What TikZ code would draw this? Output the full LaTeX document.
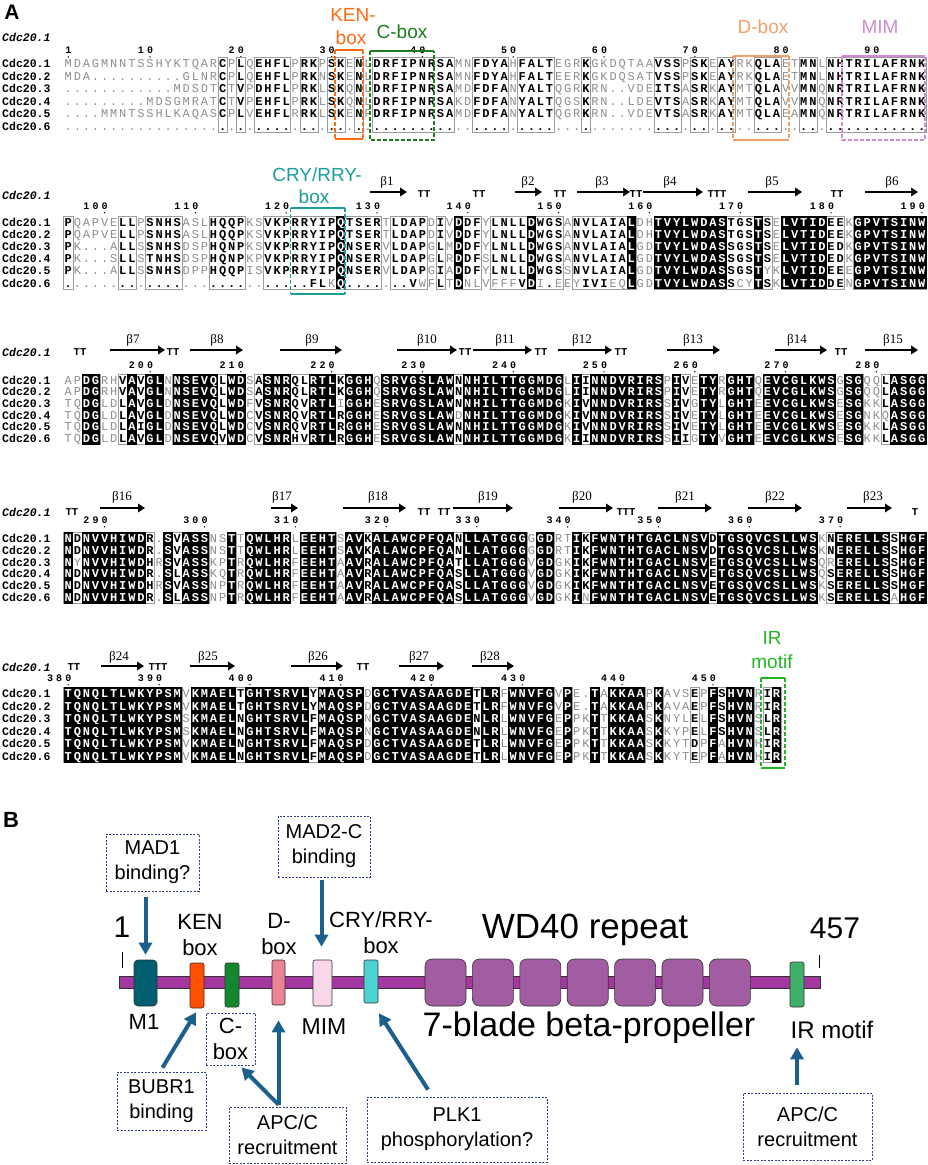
\documentclass[tikz,border=0pt]{standalone}
\usepackage{fontspec}
\setmainfont{Liberation Sans}
\newfontfamily\monof{Liberation Mono}
\newfontfamily\serf{Liberation Serif}
\usetikzlibrary{arrows.meta,calc}

\definecolor{resgrey}{HTML}{8E8E8E}
\definecolor{framegrey}{HTML}{9C9C9C}
\definecolor{kencol}{HTML}{FF6A13}
\definecolor{cboxcol}{HTML}{1E7B1E}
\definecolor{dboxcol}{HTML}{F5A06A}
\definecolor{mimcol}{HTML}{D28AD2}
\definecolor{crycol}{HTML}{1A9E9A}
\definecolor{ircol}{HTML}{22B522}
\definecolor{bbcol}{HTML}{A3369F}
\definecolor{bladecol}{HTML}{A25CA2}
\definecolor{m1col}{HTML}{005E6E}
\definecolor{kenb}{HTML}{FF4F00}
\definecolor{cboxb}{HTML}{12882E}
\definecolor{dboxb}{HTML}{EA8395}
\definecolor{mimb}{HTML}{F8D8E8}
\definecolor{cryb}{HTML}{4DD2D2}
\definecolor{irbcol}{HTML}{3FB06A}
\definecolor{arrblue}{HTML}{1B5F8C}
\definecolor{boxblue}{HTML}{2A3C8A}

\tikzset{
  res/.style={font=\monof\bfseries\fontsize{12}{12}\selectfont, inner sep=0pt, anchor=base, text=black},
  resw/.style={res, text=white},
  resg/.style={font=\monof\fontsize{12}{12}\selectfont, inner sep=0pt, anchor=base, text=resgrey},
  numd/.style={font=\monof\bfseries\fontsize{10}{10}\selectfont, inner sep=0pt, anchor=base},
  alframe/.style={draw=framegrey, line width=0.6pt},
  namef/.style={font=\monof\bfseries\fontsize{11.5}{12}\selectfont, inner sep=0pt, anchor=base west},
  hdr/.style={font=\monof\bfseries\itshape\fontsize{11.5}{12}\selectfont, inner sep=0pt, anchor=west},
  ttl/.style={font=\monof\bfseries\fontsize{10.5}{11}\selectfont, inner sep=0pt},
  betal/.style={font=\serf\fontsize{13}{14}\selectfont, inner sep=0pt},
  sse/.style={line width=2.6pt, -{Triangle[length=7pt,width=8.5pt]}},
  motl/.style={font=\fontsize{19}{21}\selectfont, inner sep=0pt},
  solidb/.style={line width=1.6pt},
  dashb/.style={line width=1.3pt, dash pattern=on 4pt off 2pt},
  dbox/.style={draw=boxblue, dash pattern=on 2pt off 1.5pt, line width=0.8pt, fill=white, align=center, font=\fontsize{20}{25}\selectfont, inner sep=0pt},
  barr/.style={draw=arrblue, line width=4pt, -{Triangle[length=12pt,width=13pt]}},
  dom/.style={draw=black!80, line width=0.6pt, rounded corners=3pt, inner sep=0pt},
  lab/.style={font=\fontsize{22}{26}\selectfont, align=center, inner sep=0pt},
}

\ExplSyntaxOn
\tl_new:N \l__al_xs_tl
\tl_new:N \l__al_ys_tl
\tl_new:N \l__al_xl_tl
\tl_new:N \l__al_xr_tl
\tl_new:N \l__al_yt_tl
\tl_new:N \l__al_yb_tl
\int_new:N \l__al_start_int
\int_new:N \l__al_n_int
\bool_new:N \l__al_cur_bool
\cs_new:Npn \__al_colx:n #1 { \fp_eval:n { 68.3 + ( #1 - 1 ) * 9.08 } }
\cs_new_protected:Npn \__al_cell:nnnnn #1#2#3#4#5
  {
    \tl_set:Nx \l__al_xs_tl { \__al_colx:n {#1} }
    \tl_set:Nx \l__al_ys_tl { \fp_eval:n { #2 + 4.1 } }
    \str_case:nn {#4}
      {
        {b}
          {
            \tl_set:Nx \l__al_xl_tl { \fp_eval:n { \l__al_xs_tl - 4.75 } }
            \tl_set:Nx \l__al_xr_tl { \fp_eval:n { \l__al_xs_tl + 4.75 } }
            \tl_set:Nx \l__al_yt_tl { \fp_eval:n { #2 - #3 / 2 - 0.3 } }
            \tl_set:Nx \l__al_yb_tl { \fp_eval:n { #2 + #3 / 2 + 0.3 } }
            \fill[black]~(\l__al_xl_tl,\l__al_yt_tl)~rectangle~(\l__al_xr_tl,\l__al_yb_tl);
            \node[resw]~at~(\l__al_xs_tl,\l__al_ys_tl)~{\uppercase{#5}};
          }
        {f}
          {
            \int_compare:nNnTF { `#5 } > { 96 }
              { \node[resg]~at~(\l__al_xs_tl,\l__al_ys_tl)~{\uppercase{#5}}; }
              { \node[res]~at~(\l__al_xs_tl,\l__al_ys_tl)~{#5}; }
          }
        {n}
          { \node[resg]~at~(\l__al_xs_tl,\l__al_ys_tl)~{\uppercase{#5}}; }
      }
  }
\cs_generate_variant:Nn \__al_cell:nnnnn { nnnee }
\cs_new_protected:Npn \__al_row:nnnn #1#2#3#4
  {
    \int_step_inline:nn { \str_count_ignore_spaces:n {#4} }
      {
        \__al_cell:nnnee {##1} {#2} {#3}
          { \str_item_ignore_spaces:nn {#1} {##1} }
          { \str_item_ignore_spaces:nn {#4} {##1} }
      }
  }
\NewDocumentCommand \AlRow { m m m m }
  { \exp_args:Nx \__al_row:nnnn {#1} {#2} {#3} {#4} }
\cs_new_protected:Npn \__al_frames:nnn #1#2#3
  {
    \int_set:Nn \l__al_n_int { \str_count_ignore_spaces:n {#1} }
    \int_zero:N \l__al_start_int
    \int_step_inline:nn { \l__al_n_int + 1 }
      {
        \bool_set_false:N \l__al_cur_bool
        \int_compare:nNnT {##1} < { \l__al_n_int + 1 }
          {
            \str_if_eq:eeF { \str_item_ignore_spaces:nn {#1} {##1} } { n }
              { \bool_set_true:N \l__al_cur_bool }
          }
        \bool_if:NTF \l__al_cur_bool
          {
            \int_compare:nNnT { \l__al_start_int } = { 0 }
              { \int_set:Nn \l__al_start_int {##1} }
          }
          {
            \int_compare:nNnF { \l__al_start_int } = { 0 }
              {
                \tl_set:Nx \l__al_xl_tl { \fp_eval:n { \__al_colx:n { \int_use:N \l__al_start_int } - 4.54 } }
                \tl_set:Nx \l__al_xr_tl { \fp_eval:n { \__al_colx:n { ##1 - 1 } + 4.54 } }
                \draw[alframe]~(\l__al_xl_tl,#2)~rectangle~(\l__al_xr_tl,#3);
                \int_zero:N \l__al_start_int
              }
          }
      }
  }
\NewDocumentCommand \AlFrames { m m m }
  { \exp_args:Nx \__al_frames:nnn {#1} {#2} {#3} }
\NewDocumentCommand \AlNum { m m m }
  {
    \int_set:Nn \l__al_n_int { \str_count:n {#3} }
    \tl_set:Nx \l__al_ys_tl { \fp_eval:n { #2 + 3.6 } }
    \int_step_inline:nn { \l__al_n_int }
      {
        \tl_set:Nx \l__al_xs_tl { \__al_colx:n { #1 - \int_use:N \l__al_n_int + ##1 } }
        \node[numd]~at~(\l__al_xs_tl,\l__al_ys_tl)~{\str_item:nn {#3} {##1}};
      }
    \tl_set:Nx \l__al_xs_tl { \__al_colx:n {#1} }
    \tl_set:Nx \l__al_yt_tl { \fp_eval:n { #2 + 6.8 } }
    \fill~(\l__al_xs_tl,\l__al_yt_tl)~circle~(0.75);
  }
\NewDocumentCommand \AlNames { m m }
  {
    \int_step_inline:nn { 6 }
      {
        \tl_set:Nx \l__al_ys_tl { \fp_eval:n { #1 + (##1 - 1) * #2 + 4.1 } }
        \node[namef]~at~(2,\l__al_ys_tl)~{Cdc20.##1};
      }
  }
\ExplSyntaxOff

\begin{document}
\begin{tikzpicture}[x=1pt,y=-1pt]
\fill[white] (0,0) rectangle (927,1165);
\useasboundingbox (0,0) rectangle (927,1165);

\node[font=\bfseries\fontsize{21}{21}\selectfont, inner sep=0pt] (labA) at (12,12) {A};

% ---------------- Block 1 ----------------
\node[hdr] (h1) at (2,37) {Cdc20.1};
\AlNum{1}{50}{1}\AlNum{10}{50}{10}\AlNum{20}{50}{20}\AlNum{30}{50}{30}\AlNum{40}{50}{40}
\AlNum{50}{50}{50}\AlNum{60}{50}{60}\AlNum{70}{50}{70}\AlNum{80}{50}{80}\AlNum{90}{50}{90}
\def\clA{nnnnnnnnnn nnnnnnnfnf nffffnffnf fnfnffffff fffnnffffn ffffnnnfnn nnnnnfffnf fnffnnfffn nffnffffff fffff}
\AlFrames{\clA}{57}{132.6}
\AlNames{63.3}{12.6}
\AlRow{\clA}{63.3}{12.6}{MDAGMNNTSS HYKTQARCPL QEHFLPRKPS KENLDRFIPN RSAMNFDYAH FALTEGRKGK DQTAAVSSPS KEAYRKQLAE TMNLNHTRIL AFRNK}
\AlRow{\clA}{75.9}{12.6}{MDA....... ...GLNRCPL QEHFLPRKNS KENLDRFIPN RSAMNFDYAH FALTEERKGK DQSATVSSPS KEAYRKQLAE TMNLNHTRIL AFRNK}
\AlRow{\clA}{88.5}{12.6}{.......... ..MDSDTCTV PDHFLPRKLS KQNLDRFIPN RSAMDFDFAN YALTQGRKRN ..VDEITSAS RKAYMTQLAV VMNQNRTRIL AFRNK}
\AlRow{\clA}{101.1}{12.6}{.........M DSGMRATCTV PEHFLPRKLS KQNLDRFIPN RSAKDFDFAN YALTQGSKRN ..LDEVTSAS RKAYMTQLAV VMNQNRTRIL AFRNK}
\AlRow{\clA}{113.7}{12.6}{....MMNTSS HLKAQASCPL VEHFLRRKLS KENFDRFIPN RSAMDFDFAN YALTQGRKRN ..VDEVTSAS RKAYMTQLAE AMNQNRTRIL AFRNK}
\AlRow{\clA}{126.3}{12.6}{.......... .......... .......... .......... .......... .......... .......... .......... .......... .....}

% motif boxes block 1
\draw[kencol,solidb] (335,50) -- (363,50) (335,139) -- (363,139);
\draw[kencol,dashb] (335,50) -- (335,139) (363,50) -- (363,139);
\node[motl, text=kencol] (kenl1) at (353,15) {KEN-};
\node[motl, text=kencol] (kenl2) at (351,38) {box};
\draw[cboxcol,solidb] (370,51) -- (434,51);
\draw[cboxcol,dashb] (370,51) -- (370,140) -- (434,140) -- (434,51);
\node[motl, text=cboxcol] (cboxl) at (402,32) {C-box};
\draw[dboxcol,solidb] (733,56) -- (789,56) (733,140) -- (789,140);
\draw[dboxcol,dashb] (733,56) -- (733,140) (789,56) -- (789,140);
\node[motl, text=dboxcol] (dboxl) at (763,27) {D-box};
\draw[mimcol,solidb] (842,56) -- (925,56);
\draw[mimcol,dashb] (842,56) -- (842,140) -- (925,140) -- (925,56);
\node[motl, text=mimcol] (miml) at (880,27) {MIM};

% ---------------- Block 2 ----------------
\node[hdr] (h2) at (2,195) {Cdc20.1};
\AlNum{5}{206}{100}\AlNum{15}{206}{110}\AlNum{25}{206}{120}\AlNum{35}{206}{130}\AlNum{45}{206}{140}
\AlNum{55}{206}{150}\AlNum{65}{206}{160}\AlNum{75}{206}{170}\AlNum{85}{206}{180}\AlNum{95}{206}{190}
\def\clB{fnnnnnffnf fffnnnffff nnffffffff bffffnffff nfnbffnfff fbfffnffff ffbnnbbbbb bbbfffbfnb bbbbffnbbb bbbbb}
\AlFrames{\clB}{215.9}{289.1}
\AlNames{222}{12.2}
\AlRow{\clB}{222}{12.2}{PQAPVELLPS NHSASLHQQP KSVKPRRYIP QTSERTLDAP DIVDDFYLNL LDWGSANVLA IALDHTVYLW DASTGSTSEL VTIDEEKGPV TSINW}
\AlRow{\clB}{234.2}{12.2}{PQAPVELLPS NHSASLHQQP KSVKPRRYIP QTSERTLDAP DIVDDFYLNL LDWGSANVLA IALDHTVYLW DASTGSTSEL VTIDEEKGPV TSINW}
\AlRow{\clB}{246.4}{12.2}{PK...ALLSS NHSDSPHQNP KSVKPRRYIP QNSERVLDAP GLMDDFYLNL LDWGSANVLA IALGDTVYLW DASSGSTSEL VTIDEDKGPV TSINW}
\AlRow{\clB}{258.6}{12.2}{PK...SLLST NHSDSPHQNP KPVKPRRYIP QNSERVLDAP GLRDDFSLNL LDWGSANVLA IALGDTVYLW DASSGSTSEL VTIDEDKGPV TSINW}
\AlRow{\clB}{270.8}{12.2}{PK...ALLSS NHSDPPHQQP ISVKPRRYIP QNSERVLDAP GIADDFYLNL LDWGSSNVLA IALGDTVYLW DASSGSTyKL VTIDEEEGPV TSINW}
\AlRow{\clB}{283}{12.2}{.......... .......... .......FLk Q.......Vw FLTDnlVfff VDi.eEyIVI eqLGDTVYLW DASScyTSKL VTIDDENGPV TSINW}
% secondary structure block 2
\node[betal] (b1) at (387,182) {β1}; \draw[sse] (370,192) -- (407,192);
\node[ttl] at (424,194) {TT}; \node[ttl] at (479,194) {TT};
\node[betal] (b2) at (528,182) {β2}; \draw[sse] (515,192) -- (542,192);
\node[ttl] at (560,194) {TT};
\node[betal] (b3) at (602,182) {β3}; \draw[sse] (577,192) -- (630,192);
\node[ttl] at (636,194) {TT};
\node[betal] (b4) at (670,182) {β4}; \draw[sse] (643,192) -- (703,192);
\node[ttl] at (717,194) {TTT};
\node[betal] (b5) at (772,182) {β5}; \draw[sse] (748,192) -- (802,192);
\node[ttl] at (837,194) {TT};
\node[betal] (b6) at (892,182) {β6}; \draw[sse] (865,192) -- (918,192);
% CRY box
\draw[crycol,solidb] (290.5,208) -- (345,208) (290.5,294) -- (345,294);
\draw[crycol,dashb] (290.5,208) -- (290.5,294) (345,208) -- (345,294);
\node[motl, text=crycol] (cryl1) at (317,175) {CRY/RRY-};
\node[motl, text=crycol] (cryl2) at (314,197) {box};

% ---------------- Block 3 ----------------
\node[hdr] (h3) at (2,352) {Cdc20.1};
\AlNum{10}{365}{200}\AlNum{20}{365}{210}\AlNum{30}{365}{220}\AlNum{40}{365}{230}\AlNum{50}{365}{240}
\AlNum{60}{365}{250}\AlNum{70}{365}{260}\AlNum{80}{365}{270}\AlNum{90}{365}{280}
\def\clC{nnbbnnfbfb bnbbbbbfbb nfbbbffbbb fbbbnbbbbb bbbfbbbbbb bbbbbnbfbb bbbbbbnbfn bbnbbbnbbb bbbbbnbbnn fbbbb}
\AlFrames{\clC}{374.15}{444.35}
\AlNames{380}{11.7}
\AlRow{\clC}{380}{11.7}{APDGRHVAVG LNNSEVQLWD SASNRQLRTL KGGHQSRVGS LAWNNHILTT GGMDGLIINN DVRIRSPIVE TYRGHTQEVC GLKWSGSGQQ LASGG}
\AlRow{\clC}{391.7}{11.7}{APDGRHVAVG LNNSEVQLWD SASNRQLRTL KGGHQSRVGS LAWNNHILTT GGMDGLIINN DVRIRSPIVE TYRGHTQEVC GLKWSGSGQQ LASGG}
\AlRow{\clC}{403.4}{11.7}{TQDGLDLAVG LDNSEVQLWD FVSNRQVRTL iGGHESRVGS LAWNNHILTT GGMDGKIVNN DVRIRSSIVG TYLGHTEEVC GLKWSESGKK LASGG}
\AlRow{\clC}{415.1}{11.7}{TQDGLDLAVG LDNSEVQLWD CVSNRQVRTL RGGHESRVGS LAWdNHILTT GGMDGKIVNN DVRIRSSIVE TYLGHTEEVC GLKWSESGNK qASGG}
\AlRow{\clC}{426.8}{11.7}{TQDGLDLAIG LDNSEVQLWD CVSNRQVRTL RGGHESRVGS LAWNNHILTT GGMDGKIVNN DVRIRSSIVE TYLGHTEEVC GLKWSESGKK LASGG}
\AlRow{\clC}{438.5}{11.7}{TQDGLDLAVG LDNSEVQVWD CVSNRHVRTL RGGHESRVGS LAWNNHILTT GGMDGKIINN DVRIRSSIIG TYVGHTEEVC GLKWSESGKK LASGG}
% secondary structure block 3
\node[ttl] at (80,352) {TT};
\node[betal] (b7) at (133,340) {β7}; \draw[sse] (110,350) -- (165,350);
\node[ttl] at (173,352) {TT};
\node[betal] (b8) at (217,340) {β8}; \draw[sse] (190,350) -- (243,350);
\node[betal] (b9) at (312,340) {β9}; \draw[sse] (280,350) -- (342,350);
\node[betal] (b10) at (427,340) {β10}; \draw[sse] (397,350) -- (457,350);
\node[ttl] at (465,352) {TT};
\node[betal] (b11) at (505,340) {β11}; \draw[sse] (473,350) -- (532,350);
\node[ttl] at (541,352) {TT};
\node[betal] (b12) at (582,340) {β12}; \draw[sse] (558,350) -- (612,350);
\node[ttl] at (621,352) {TT};
\node[betal] (b13) at (693,340) {β13}; \draw[sse] (667,350) -- (720,350);
\node[betal] (b14) at (797,340) {β14}; \draw[sse] (775,350) -- (827,350);
\node[ttl] at (841,352) {TT};
\node[betal] (b15) at (893,340) {β15}; \draw[sse] (865,350) -- (918,350);

% ---------------- Block 4 ----------------
\node[hdr] (h4) at (2,512) {Cdc20.1};
\AlNum{5}{520}{290}\AlNum{16}{520}{300}\AlNum{26}{520}{310}\AlNum{36}{520}{320}\AlNum{46}{520}{330}
\AlNum{56}{520}{340}\AlNum{66}{520}{350}\AlNum{76}{520}{360}\AlNum{86}{520}{370}
\def\clD{bfbbbbbbbf nbfbbbnnbn bbbbbnbbbb nbbfbbbbbb bbbfbbbbbb bnbbnnbfbb bbbbbbbbbb bfbbbbbbbb bbbnfbbbbb bfbbb}
\AlFrames{\clD}{532.4}{603.2}
\AlNames{538.3}{11.8}
\AlRow{\clD}{538.3}{11.8}{NDNVVHIWDR .SVASSNSTT QWLHRLEEHT SAVKALAWCP FQANLLATGG GGGDRTIKFW NTHTGACLNS VDTGSQVCSL LWSKNERELL SSHGF}
\AlRow{\clD}{550.1}{11.8}{NDNVVHIWDR .SVASSNSTT QWLHRLEEHT SAVKALAWCP FQANLLATGG GGGDRTIKFW NTHTGACLNS VDTGSQVCSL LWSKNERELL SSHGF}
\AlRow{\clD}{561.9}{11.8}{NyNVVHIWDH RSVASSKPTR QWLHRFEEHT AAVRALAWCP FQATLLATGG GVGDGKIKFW NTHTGACLNS VETGSQVCSL LWSQrERELL SSHGF}
\AlRow{\clD}{573.7}{11.8}{NDNVVHIWDR .SLASSKQTR QWLHRFEEHT AAVRALAWCP FQASLLATGG GVGDGKIKFW NTHTGACLNS VETGSQVCSL LWSQSERELL SSHGF}
\AlRow{\clD}{585.5}{11.8}{NDNVVHIWDH RSVASSNPTR QWLHRFEEHT AAVRALAWCP FQASLLATGG GVGDGKIKFW NTHTGACLNS VETGSQVCSL LWSKSERELL SSHGF}
\AlRow{\clD}{597.3}{11.8}{NDNVVHIWDR .SLASSNPTR QWLHRFEEHT AAVRALAWCP FQASLLATGG GVGDGKInFW NTHTGACLNS VETGSQVCSL LWSKSERELL SaHGF}
% secondary structure block 4
\node[ttl] at (72,512) {TT};
\node[betal] (b16) at (122,497) {β16}; \draw[sse] (100,508) -- (145,508);
\node[betal] (b17) at (282,497) {β17}; \draw[sse] (271,508) -- (298,508);
\node[betal] (b18) at (378,497) {β18}; \draw[sse] (343,508) -- (406,508);
\node[ttl] at (424,512) {TT}; \node[ttl] at (444,512) {TT};
\node[betal] (b19) at (488,497) {β19}; \draw[sse] (453,508) -- (513,508);
\node[betal] (b20) at (582,497) {β20}; \draw[sse] (559,508) -- (613,508);
\node[ttl] at (626,512) {TTT};
\node[betal] (b21) at (685,497) {β21}; \draw[sse] (658,508) -- (712,508);
\node[betal] (b22) at (775,497) {β22}; \draw[sse] (748,508) -- (802,508);
\node[betal] (b23) at (873,497) {β23}; \draw[sse] (847,508) -- (892,508);
\node[ttl] at (915,512) {T};

% ---------------- Block 5 ----------------
\node[hdr] (h5) at (2,667) {Cdc20.1};
\AlNum{1}{678}{380}\AlNum{11}{678}{390}\AlNum{21}{678}{400}\AlNum{31}{678}{410}
\AlNum{41}{678}{420}\AlNum{51}{678}{430}\AlNum{62}{678}{440}\AlNum{72}{678}{450}
\def\clE{bbbbbbbbbb bbbnbbbbbf bbbbbbbfbb bbbnbbbbbb bbbbbfbbnb bbbbnbnnbn bbbbnbnnnf nbfbbbnfb}
\AlFrames{\clE}{687.25}{762.25}
\AlNames{693.5}{12.5}
\AlRow{\clE}{693.5}{12.5}{TQNQLTLWKY PSMVKMAELT GHTSRVLYMA QSPDGCTVAS AAGDETLRFW NVFGVPE.TA KKAAPKAVSE PFSHVNRIR}
\AlRow{\clE}{706}{12.5}{TQNQLTLWKY PSMVKMAELT GHTSRVLYMA QSPDGCTVAS AAGDETLRFW NVFGVPE.TA KKAAPKAVAE PFSHVNRIR}
\AlRow{\clE}{718.5}{12.5}{TQNQLTLWKY PSMSKMAELN GHTSRVLFMA QSPNGCTVAS AAGDENLRLW NVFGEPPKTT KKAASKNYLE LFSHVNSLR}
\AlRow{\clE}{731}{12.5}{TQNQLTLWKY PSMSKMAELN GHTSRVLFMA QSPNGCTVAS AAGDENLRLW NVFGEPPKTT KKAASKKYPE LFSHVNSLR}
\AlRow{\clE}{743.5}{12.5}{TQNQLTLWKY PSMVKMAELN GHTSRVLFMA QSPDGCTVAS AAGDETLRLW NVFGEPPKTT KKAASKKYTD PFaHVNHIR}
\AlRow{\clE}{756}{12.5}{TQNQLTLWKY PSMVKMAELN GHTSRVLFMA QSPDGCTVAS AAGDETLRLW NVFGEPPKTT KKAASKKYTE PFaHVNHIR}
% secondary structure block 5
\node[ttl] at (74,667) {TT};
\node[betal] (b24) at (119,657) {β24}; \draw[sse] (101,666) -- (144,666);
\node[ttl] at (158,667) {TTT};
\node[betal] (b25) at (208,657) {β25}; \draw[sse] (190,666) -- (235,666);
\node[betal] (b26) at (318,657) {β26}; \draw[sse] (291,666) -- (343,666);
\node[ttl] at (363,667) {TT};
\node[betal] (b27) at (419,657) {β27}; \draw[sse] (399,666) -- (444,666);
\node[betal] (b28) at (490,657) {β28}; \draw[sse] (472,666) -- (514,666);
% IR box
\draw[ircol,solidb] (761,678) -- (785,678) (761,768) -- (785,768);
\draw[ircol,dashb] (761,678) -- (761,768) (785,678) -- (785,768);
\node[motl, text=ircol] (irl1) at (772,638) {IR};
\node[motl, text=ircol] (irl2) at (772,662) {motif};

% ---------------- Panel B ----------------
\node[font=\bfseries\fontsize{22}{22}\selectfont, inner sep=0pt] (labB) at (11,820) {B};

\node[dom, fill=bbcol, rounded corners=0pt, minimum width=701pt, minimum height=12pt] (bb) at (469.5,982) {};
\node[dom, fill=m1col, minimum width=23pt, minimum height=46pt, rounded corners=4pt] (m1) at (145.5,983) {};
\node[dom, fill=kenb, minimum width=14pt, minimum height=45pt, rounded corners=2pt] (ken) at (197,985.5) {};
\node[dom, fill=cboxb, minimum width=14pt, minimum height=44pt, rounded corners=2pt] (cbx) at (232,985) {};
\node[dom, fill=dboxb, minimum width=13pt, minimum height=45pt, rounded corners=2pt] (dbx) at (278.5,982.5) {};
\node[dom, fill=mimb, minimum width=19pt, minimum height=46pt, rounded corners=2pt] (mim) at (322.5,983) {};
\node[dom, fill=cryb, minimum width=14pt, minimum height=43pt, rounded corners=2pt] (cry) at (371,981.5) {};
\foreach \i in {0,...,6}
  \node[dom, fill=bladecol, minimum width=41pt, minimum height=47pt, rounded corners=7pt] (blade\i) at ({445.5+47.4*\i},982.5) {};
\node[dom, fill=irbcol, minimum width=14pt, minimum height=45pt, rounded corners=2pt] (irb) at (797,984.5) {};

\node[font=\fontsize{30}{30}\selectfont, inner sep=0pt] (one) at (122,927) {1};
\draw[line width=0.8pt] (122,952) -- (122,968);
\node[font=\fontsize{30}{30}\selectfont, inner sep=0pt] (end) at (835,928) {457};
\draw[line width=0.8pt] (819,955) -- (819,968);

\node[lab] (kenlab) at (200,935) {KEN\\box};
\node[lab] (dlab) at (279,934.5) {D-\\box};
\node[lab] (crylab) at (381,932.5) {CRY/RRY-\\box};
\node[font=\fontsize{35}{35}\selectfont, inner sep=0pt] (wdlab) at (585,930) {WD40 repeat};
\node[lab] (m1lab) at (144,1022) {M1};
\node[lab, font=\fontsize{23}{26}\selectfont] (mimlab) at (324,1027) {MIM};
\node[font=\fontsize{34}{34}\selectfont, inner sep=0pt] (proplab) at (589,1028) {7-blade beta-propeller};
\node[lab, font=\fontsize{24}{26}\selectfont] (irlab) at (832,1030) {IR motif};
\node[dbox, font=\fontsize{22}{26}\selectfont, minimum width=49pt, minimum height=52pt] (cboxlab) at (230.5,1039) {C-\\box};

\node[dbox, minimum width=93pt, minimum height=57pt] (mad1) at (152.5,862.5) {MAD1\\binding?};
\node[dbox, minimum width=92pt, minimum height=61pt] (mad2) at (324,846.5) {MAD2-C\\binding};
\node[dbox, minimum width=89pt, minimum height=58pt] (bubr) at (161.5,1101) {BUBR1\\binding};
\node[dbox, minimum width=117pt, minimum height=56pt] (apc1) at (287.5,1135) {APC/C\\recruitment};
\node[dbox, minimum width=180pt, minimum height=65pt] (plk) at (457,1129.5) {PLK1\\phosphorylation?};
\node[dbox, minimum width=129pt, minimum height=67pt] (apc2) at (807.5,1126.5) {APC/C\\recruitment};

\draw[barr] ($(mad1.south -| m1.center)+(0,6)$) -- ($(m1.north)+(0,-5)$);
\draw[barr] ($(mad2.south -| mim.center)+(-1,3)$) -- ($(mim.north)+(-1,-13)$);
\draw[barr] ($(bubr.north)+(1,-4)$) -- ($(ken.south)+(-1,4)$);
\draw[barr] ($(apc1.north -| dbx.center)+(0,-2)$) -- ($(dbx.south)+(0,15)$);
\draw[barr] ($(apc1.north -| dbx.center)+(0,-2)$) -- ($(cboxlab.south east)+(-14,2)$);
\draw[barr] ($(plk.north)+(-29,-7)$) -- ($(cry.south)+(8,10)$);
\draw[barr] ($(apc2.north -| irb.center)+(0,-8)$) -- ($(irb.south)+(0,40)$);
\end{tikzpicture}
\end{document}
